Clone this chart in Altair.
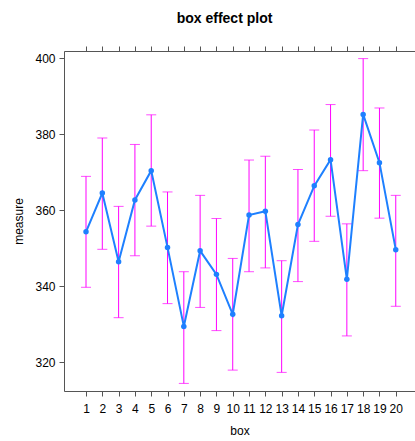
import altair as alt
import pandas as pd

box = list(range(1, 21))
fit = [354.3, 364.5, 346.4, 362.7, 370.4, 350.2, 329.4, 349.3, 343.1, 332.6,
       358.7, 359.7, 332.2, 356.2, 366.4, 373.3, 341.8, 385.2, 372.5, 349.6]
lower = [339.7, 349.7, 331.7, 348.0, 355.8, 335.4, 314.4, 334.4, 328.3, 317.9,
         343.8, 344.8, 317.3, 341.2, 351.8, 358.4, 326.9, 370.4, 357.9, 334.7]
upper = [368.9, 379.0, 361.0, 377.3, 385.1, 364.8, 343.8, 363.9, 357.8, 347.3,
         373.2, 374.2, 346.7, 370.7, 381.1, 387.8, 356.4, 399.9, 386.9, 363.9]
y_ticks = [320, 340, 360, 380, 400]

df = pd.DataFrame({"box": box, "fit": fit, "lower": lower, "upper": upper})

FONT = "Liberation Sans"
AX = "#555555"
xscale = alt.Scale(domain=[-0.35, 21.18], nice=False, zero=False)
yscale = alt.Scale(domain=[312.4, 401.9], nice=False, zero=False)

xaxis_bottom = alt.Axis(values=box, format="d", labelAngle=0, tickSize=5,
                        domainColor=AX, tickColor=AX, labelColor="#000000",
                        labelFont=FONT, labelFontSize=12, labelFlush=False,
                        labelOverlap=False, labelPadding=7, grid=False,
                        title="box", titleFont=FONT, titleFontSize=12,
                        titleFontWeight="normal", titleColor="#000000", titlePadding=11)
xaxis_top = alt.Axis(values=box, orient="top", labels=False, tickSize=5,
                     domainColor=AX, tickColor=AX, grid=False, title=None)
yaxis = alt.Axis(values=y_ticks, tickSize=5, domainColor=AX, tickColor=AX,
                 labelColor="#000000", labelFont=FONT, labelFontSize=12,
                 labelPadding=4, grid=False, title="measure", titleFont=FONT,
                 titleFontSize=12, titleFontWeight="normal", titleColor="#000000",
                 titlePadding=9)

base = alt.Chart(df)

bars = base.mark_rule(color="#FF00FF", strokeWidth=1).encode(
    x=alt.X("box:Q", scale=xscale, axis=xaxis_bottom),
    y=alt.Y("lower:Q", scale=yscale, axis=yaxis),
    y2="upper:Q",
)
caps_hi = base.mark_tick(color="#FF00FF", orient="horizontal", size=10, thickness=1).encode(
    x=alt.X("box:Q", scale=xscale, axis=xaxis_top),
    y=alt.Y("upper:Q", scale=yscale, axis=yaxis),
)
caps_lo = base.mark_tick(color="#FF00FF", orient="horizontal", size=10, thickness=1).encode(
    x=alt.X("box:Q", scale=xscale, axis=None),
    y=alt.Y("lower:Q", scale=yscale, axis=yaxis),
)
line = base.mark_line(color="#1E80FF", strokeWidth=2).encode(
    x=alt.X("box:Q", scale=xscale, axis=None),
    y=alt.Y("fit:Q", scale=yscale, axis=yaxis),
)
pts = base.mark_circle(color="#1E80FF", size=30, opacity=1).encode(
    x=alt.X("box:Q", scale=xscale, axis=None),
    y=alt.Y("fit:Q", scale=yscale, axis=yaxis),
)

chart = alt.layer(bars, caps_hi, caps_lo, line, pts).resolve_axis(x="independent").properties(
    width=351, height=340,
    autosize=alt.AutoSizeParams(type="none"),
    padding={"left": 64, "top": 51, "right": 0, "bottom": 50},
    title=alt.TitleParams("box effect plot", font=FONT, fontSize=14, fontWeight="bold",
                          color="#000000", anchor="middle", dx=-15, offset=20),
).configure_view(stroke=None).configure(background="white")

chart.save("out.html", embed_options={"renderer": "svg", "actions": False})
